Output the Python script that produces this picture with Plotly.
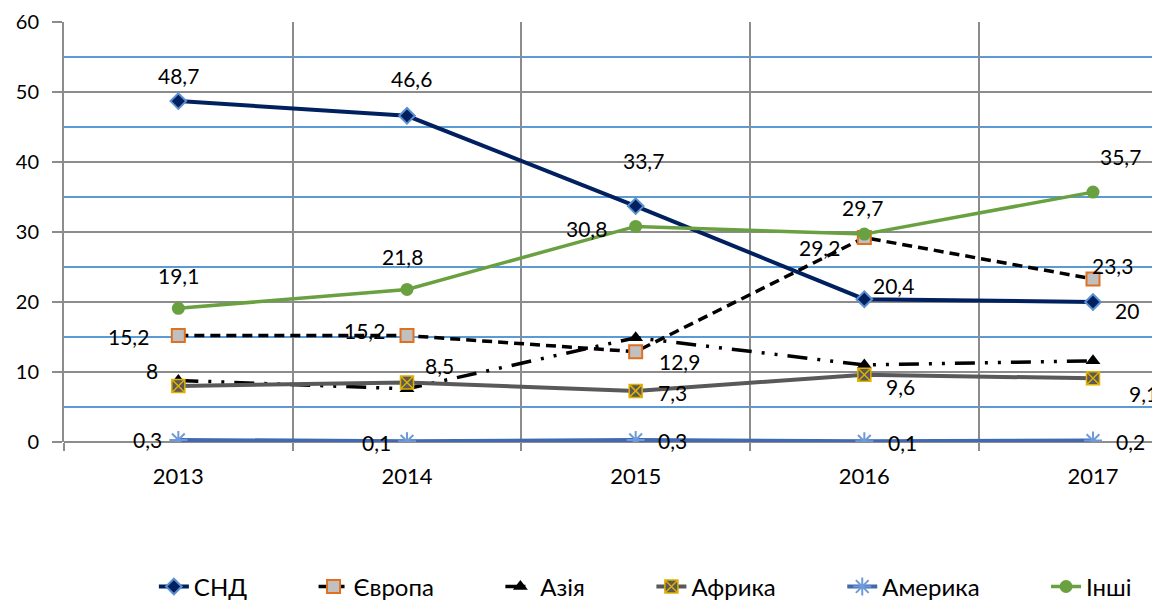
import plotly.graph_objects as go

years = ["2013", "2014", "2015", "2016", "2017"]
snd = [48.7, 46.6, 33.7, 20.4, 20]
europe = [15.2, 15.2, 12.9, 29.2, 23.3]
asia = [8.8, 7.6, 14.9, 11.0, 11.6]
africa = [8, 8.5, 7.3, 9.6, 9.1]
america = [0.3, 0.1, 0.3, 0.1, 0.2]
other = [19.1, 21.8, 30.8, 29.7, 35.7]
y_ticks = [0, 10, 20, 30, 40, 50, 60]

names = ["СНД", "Європа", "Азія", "Африка", "Америка", "Інші"]

# label pixel offsets (style only): (dx right, dy down)
label_offsets = {
    "СНД": [(0, -26), (4, -37), (8, -46), (29, -14), (34, 8)],
    "Європа": [(-50, 1), (-43, -5), (44, 10), (-45, 10), (19, -13)],
    "Африка": [(-26, -16), (32, -17), (37, 2), (36, 12), (50, 15)],
    "Америка": [(-31, 0), (-31, 1), (37, 1), (38, 1), (37, 1)],
    "Інші": [(0, -33), (-5, -33), (-49, 2), (-2, -27), (27, -36)],
}

PAD = "\u00a0" * 10

fig = go.Figure()

fig.add_trace(go.Scatter(x=years, y=snd, name=names[0] + PAD, mode="lines+markers",
                         line=dict(color="#002060", width=4),
                         marker=dict(symbol="diamond", size=12, color="#002060",
                                     line=dict(color="#5b8fd0", width=2))))
fig.add_trace(go.Scatter(x=years, y=europe, name=names[1] + PAD, mode="lines+markers",
                         line=dict(color="#000000", width=3.5, dash="10px,6px"),
                         marker=dict(symbol="square", size=13, color="#c0c0c0",
                                     line=dict(color="#e07020", width=2))))
fig.add_trace(go.Scatter(x=years, y=asia, name=names[2] + PAD, mode="lines+markers",
                         line=dict(color="#000000", width=3.5, dash="20px,10px,3px,10px,3px,10px"),
                         marker=dict(symbol="triangle-up", size=13, color="#000000")))
fig.add_trace(go.Scatter(x=years, y=africa, name=names[3] + PAD, mode="lines+markers",
                         line=dict(color="#595959", width=4),
                         marker=dict(symbol="square-x", size=13, color="#595959",
                                     line=dict(color="#e0b000", width=1.5))))
fig.add_trace(go.Scatter(x=years, y=america, name=names[4] + PAD, mode="lines+markers",
                         line=dict(color="#4169b0", width=4),
                         marker=dict(symbol="asterisk-open", size=15, color="#6f9ad8",
                                     line=dict(color="#6f9ad8", width=2))))
fig.add_trace(go.Scatter(x=years, y=other, name=names[5], mode="lines+markers",
                         line=dict(color="#69a040", width=3.5),
                         marker=dict(symbol="circle", size=13, color="#69a040")))

series = {"СНД": snd, "Європа": europe, "Африка": africa, "Америка": america, "Інші": other}

def fmt(v):
    return f"{v:g}".replace(".", ",")

for nm, vals in series.items():
    for i, v in enumerate(vals):
        dx, dy = label_offsets[nm][i]
        fig.add_annotation(x=i, y=v, xref="x", yref="y", text=fmt(v), showarrow=False,
                           xshift=dx, yshift=-dy, xanchor="center", yanchor="middle",
                           font=dict(family="Lato", size=21, color="#000000"))

# page has an 8px body margin, so the figure is 8px smaller than the window
fig.update_layout(
    width=1152, height=595,
    margin=dict(l=55.6, r=0, t=14, b=161, autoexpand=False),
    paper_bgcolor="white", plot_bgcolor="white",
    font=dict(family="Lato", color="#000000"),
    showlegend=True,
    legend=dict(orientation="h", x=0.082, y=-0.345, xanchor="left", yanchor="middle",
                font=dict(family="Lato", size=24, color="#000000"),
                tracegroupgap=0),
)
fig.update_xaxes(type="category", range=[-0.5, 4.293], showgrid=True, automargin=False,
                 gridcolor="#8c8c8c", gridwidth=2, tickson="boundaries",
                 ticks="outside", ticklen=8, tickcolor="#8c8c8c", tickwidth=2,
                 showline=False, zeroline=False, ticklabelstandoff=19,
                 tickfont=dict(family="Lato", size=22, color="#000000"))
fig.update_yaxes(range=[0, 60], tickvals=y_ticks, showgrid=True, automargin=False,
                 gridcolor="#8c8c8c", gridwidth=2,
                 minor=dict(dtick=10, tick0=5, showgrid=True, gridcolor="#5b9bd5", gridwidth=2),
                 ticks="outside", ticklen=10, tickcolor="#8c8c8c", tickwidth=2,
                 showline=True, linecolor="#8c8c8c", linewidth=2,
                 zeroline=True, zerolinecolor="#8c8c8c", zerolinewidth=2,
                 ticklabelstandoff=9,
                 tickfont=dict(family="Lato", size=20, color="#000000"))

fig.write_html("out.html")
